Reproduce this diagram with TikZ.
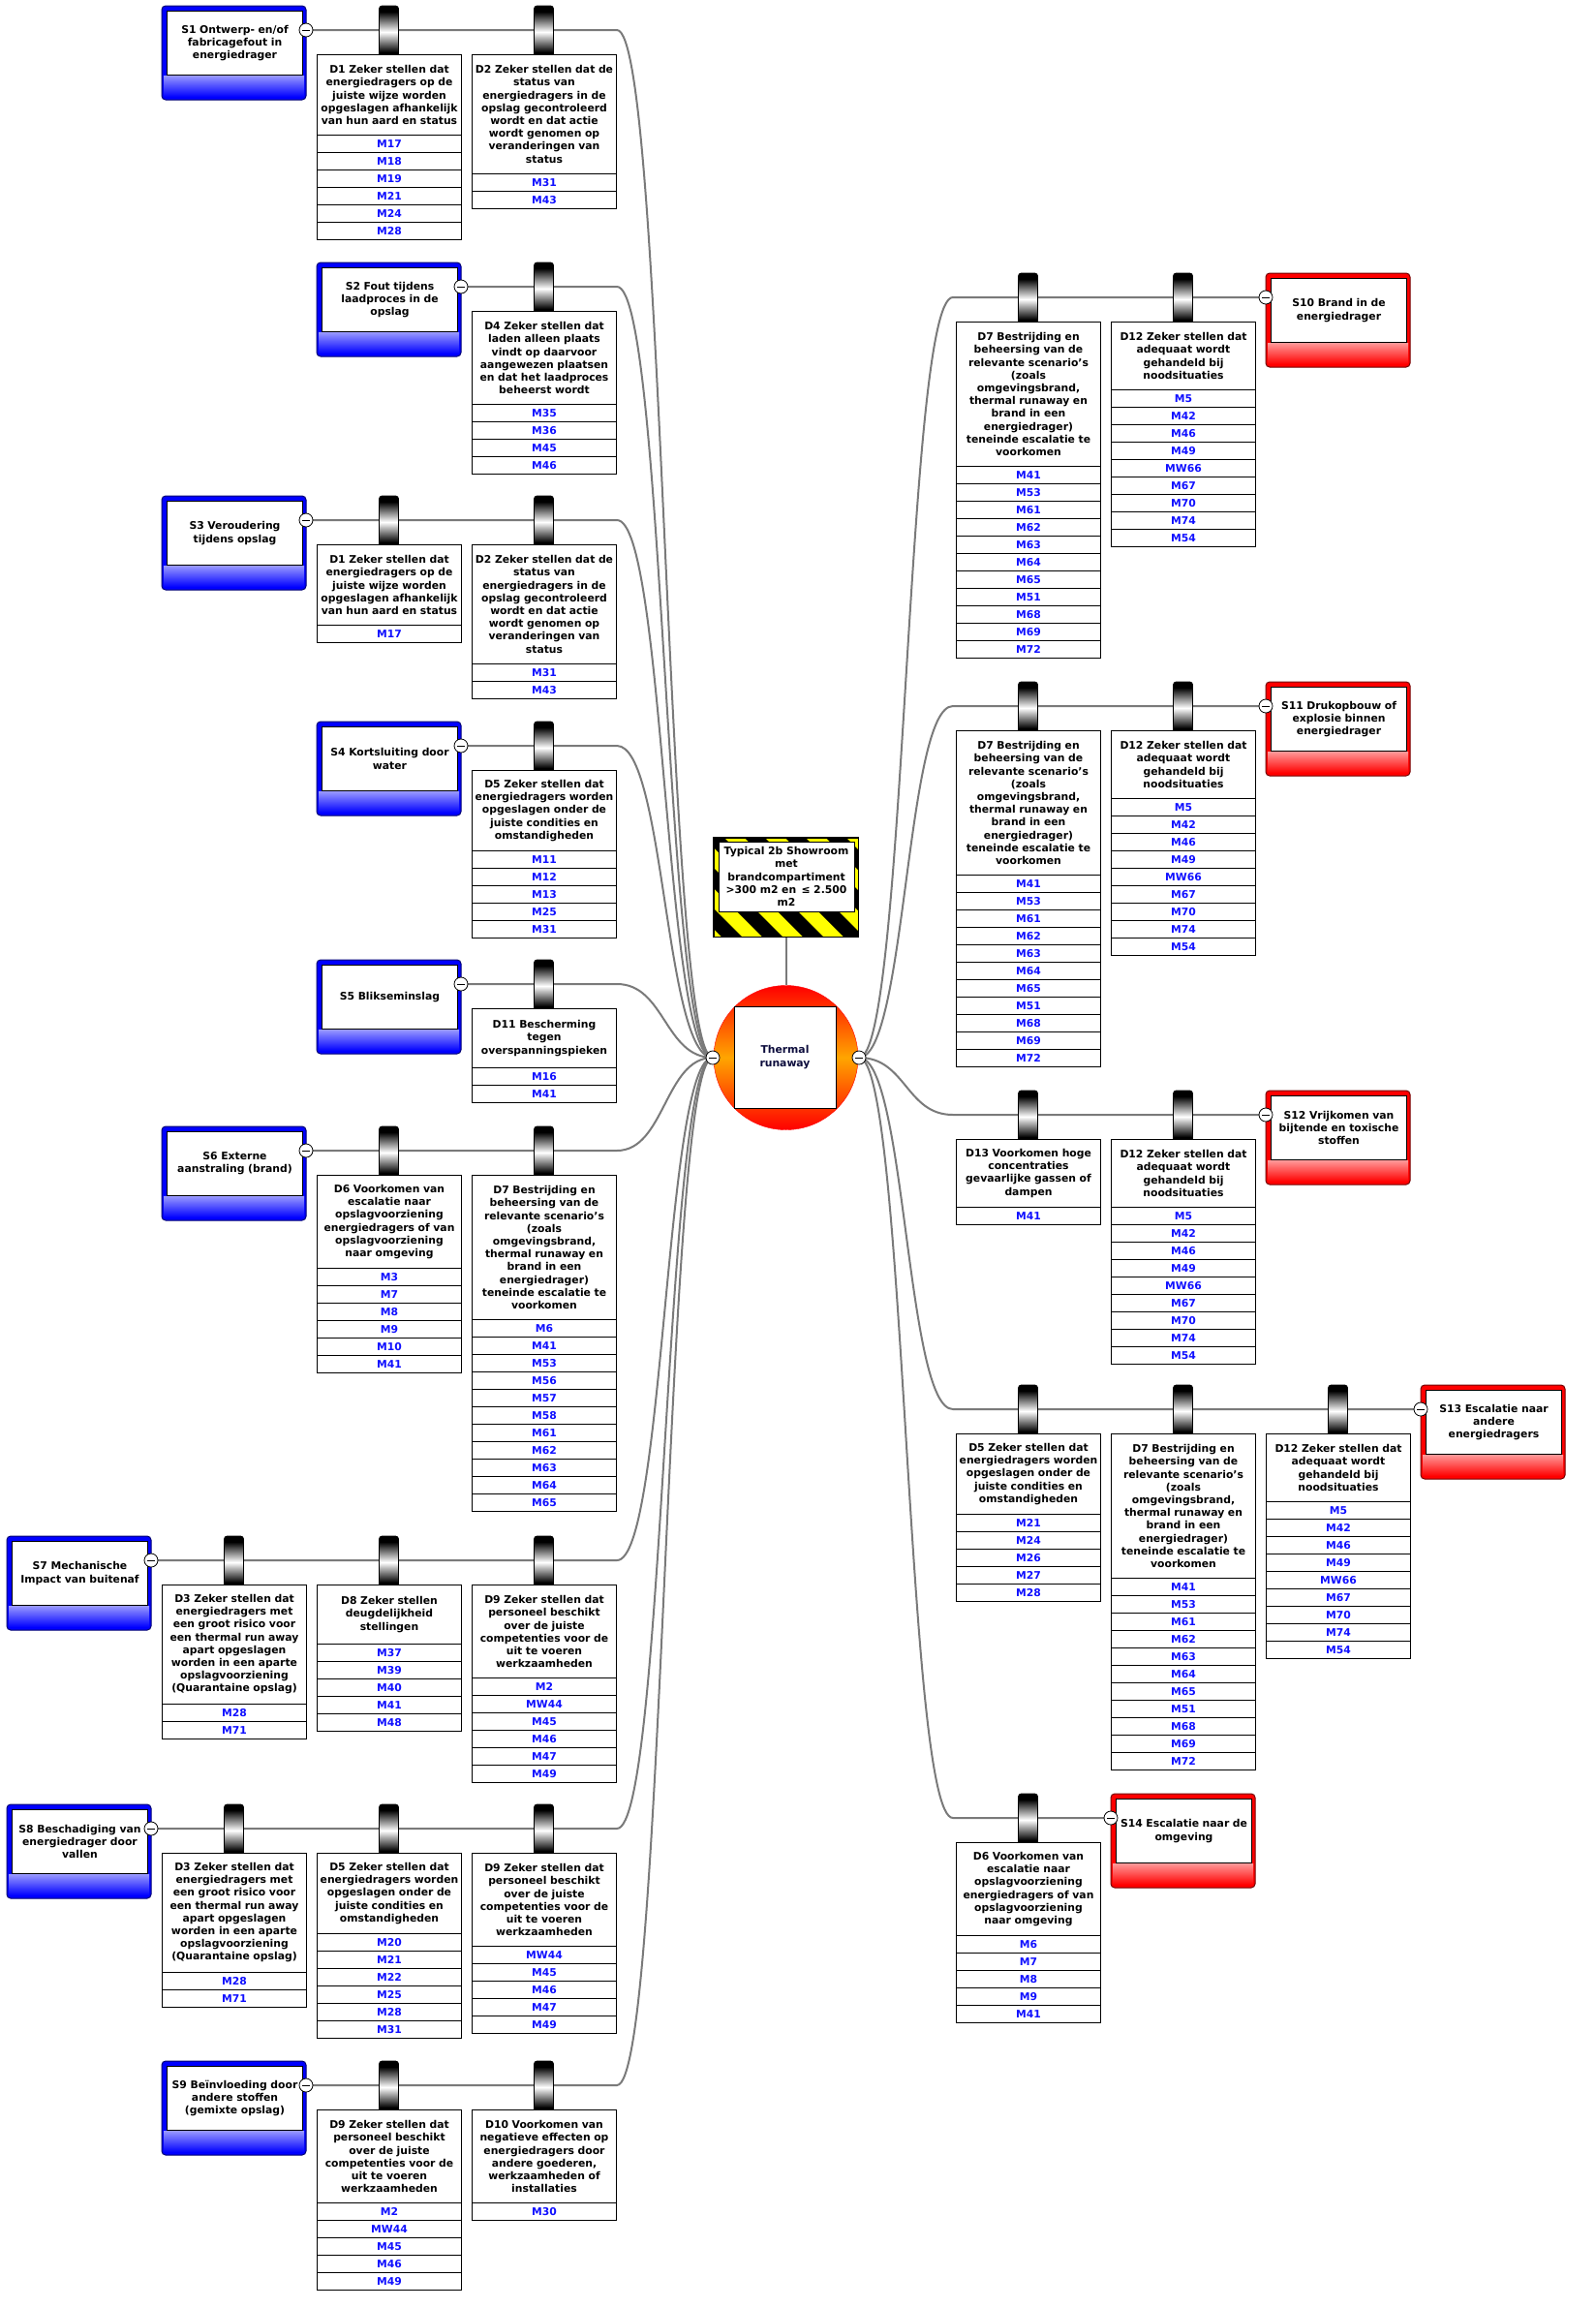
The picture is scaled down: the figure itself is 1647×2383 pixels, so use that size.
\documentclass[tikz,border=0pt]{standalone}
\usepackage{fontspec}
\setmainfont{DejaVu Sans}
\pgfdeclarelayer{bgfill}
\pgfdeclarelayer{bglines}
\pgfsetlayers{bgfill,bglines,main}
\definecolor{lg}{RGB}{122,122,122}
\definecolor{mblue}{RGB}{16,16,255}
\definecolor{navy}{RGB}{12,12,60}
\definecolor{tblue}{RGB}{0,0,255}
\definecolor{tred}{RGB}{255,0,0}
\definecolor{hzyellow}{RGB}{255,255,0}
\definecolor{teorange}{RGB}{255,165,0}
\tikzset{
  conn/.style={draw=lg, line width=2},
  txt/.style={font=\fontsize{10.8}{13.2}\selectfont\bfseries},
  dtitle/.style={draw=black, line width=1, fill=white, minimum width=149, anchor=north west, inner sep=0, text width=147, align=center, txt},
  mrow/.style={draw=black, line width=1, fill=white, minimum width=149, minimum height=18, anchor=north west, inner sep=0, text=mblue, txt},
  minus/.style={circle, draw=black, line width=0.8, fill=white, minimum size=14, inner sep=0,
    path picture={\draw[line width=1] ([xshift=3pt]path picture bounding box.west) -- ([xshift=-3pt]path picture bounding box.east);}},
}
\newcommand{\cylB}[2]{%
  \begin{scope}
    \clip[rounded corners=3] (#1-10,#2-50) rectangle (#1+10,#2+4);
    \foreach \j in {0,...,50} {
      \pgfmathsetmacro{\pc}{min(100,abs(\j-27)*100/21)}
      \fill[black!\pc!white] (#1-10,#2-50+\j) rectangle (#1+10,#2-48.9+\j);
    }
  \end{scope}
  \draw[black, line width=0.8, rounded corners=3] (#1-10,#2+2) -- (#1-10,#2-50) -- (#1+10,#2-50) -- (#1+10,#2+2);
}
\newcommand{\barrierD}[6]{%
  \pgfmathsetmacro{\hh}{max(13.2*#4+17,61)}%
  \cylB{#2+74.5}{#3}
  \node[dtitle, minimum height=\hh] (#1) at (#2,#3) {#5};
  \foreach \m [count=\i] in {#6} {
    \node[mrow] (#1-\i) at (#2, #3+\hh+18*\i-18) {\m};
  }
}
\newcommand{\threatB}[5]{%
  \path[draw=#4!45!black, line width=1, fill=#4, rounded corners=4] (#2,#3) rectangle (#2+149,#3+97);
  \shade[top color=#4!40!white, bottom color=#4] (#2+2,#3+72) rectangle (#2+147,#3+94);
  \node[draw=black, line width=1, fill=white, minimum width=140, minimum height=66, anchor=north west, inner sep=0, text width=138, align=center, txt] (#1) at (#2+5,#3+5) {#5};
}
\begin{document}
\begin{tikzpicture}[x=1pt,y=-1pt]
\useasboundingbox (0,0) rectangle (1647,2383);
\begin{pgfonlayer}{bgfill}
  \fill[white] (0,0) rectangle (1647,2383);
\end{pgfonlayer}

% ---------------- hazard and top event ----------------
\node[draw=black, line width=1, fill=hzyellow, minimum width=149, minimum height=102, inner sep=0] (hz) at (811.5,916) {};
\begin{scope}
  \clip (737,865) rectangle (886,967);
  \foreach \k in {-3,...,4} {
    \fill[black] (737+42*\k-10,865) -- ++(21,0) -- ++(110,110) -- ++(-21,0) -- cycle;
  }
\end{scope}
\draw[line width=1] (hz.north west) rectangle (hz.south east);
\node[draw=black, line width=1, fill=white, minimum width=140, minimum height=72, inner sep=0, text width=140, align=center, txt] (hzt) at (812,905)
  {Typical 2b Showroom\\met\\brandcompartiment\\>300 m2 en\, ≤ 2.500\\m2};

\node[circle, minimum size=149, inner sep=0, draw=tred, top color=tred, bottom color=tred, middle color=teorange] (tecirc) at (811.5,1092) {};
\node[draw=black, line width=1, fill=white, minimum size=105, inner sep=0, align=center, txt, text=navy] (te) at (810.5,1091.5) {Thermal\\runaway};
\node[minus] (tel) at (736,1092) {};
\node[minus] (ter) at (887,1092) {};

% ---------------- left threats ----------------
\threatB{s1}{167}{6}{tblue}{S1 Ontwerp- en/of\\fabricagefout in\\energiedrager}
\barrierD{s1d1}{327}{56}{5}{D1 Zeker stellen dat\\energiedragers op de\\juiste wijze worden\\opgeslagen afhankelijk\\van hun aard en status}{M17,M18,M19,M21,M24,M28}
\barrierD{s1d2}{487}{56}{8}{D2 Zeker stellen dat de\\status van\\energiedragers in de\\opslag gecontroleerd\\wordt en dat actie\\wordt genomen op\\veranderingen van\\status}{M31,M43}
\node[minus] (s1m) at (316,31) {};

\threatB{s2}{327}{271}{tblue}{S2 Fout tijdens\\laadproces in de\\opslag}
\barrierD{s2d4}{487}{321}{6}{D4 Zeker stellen dat\\laden alleen plaats\\vindt op daarvoor\\aangewezen plaatsen\\en dat het laadproces\\beheerst wordt}{M35,M36,M45,M46}
\node[minus] (s2m) at (476,296) {};

\threatB{s3}{167}{512}{tblue}{S3 Veroudering\\tijdens opslag}
\barrierD{s3d1}{327}{562}{5}{D1 Zeker stellen dat\\energiedragers op de\\juiste wijze worden\\opgeslagen afhankelijk\\van hun aard en status}{M17}
\barrierD{s3d2}{487}{562}{8}{D2 Zeker stellen dat de\\status van\\energiedragers in de\\opslag gecontroleerd\\wordt en dat actie\\wordt genomen op\\veranderingen van\\status}{M31,M43}
\node[minus] (s3m) at (316,537) {};

\threatB{s4}{327}{745}{tblue}{S4 Kortsluiting door\\water}
\barrierD{s4d5}{487}{795}{5}{D5 Zeker stellen dat\\energiedragers worden\\opgeslagen onder de\\juiste condities en\\omstandigheden}{M11,M12,M13,M25,M31}
\node[minus] (s4m) at (476,770) {};

\threatB{s5}{327}{991}{tblue}{S5 Blikseminslag}
\barrierD{s5d11}{487}{1041}{3}{D11 Bescherming\\tegen\\overspanningspieken}{M16,M41}
\node[minus] (s5m) at (476,1016) {};

\threatB{s6}{167}{1163}{tblue}{S6 Externe\\aanstraling (brand)}
\barrierD{s6d6}{327}{1213}{6}{D6 Voorkomen van\\escalatie naar\\opslagvoorziening\\energiedragers of van\\opslagvoorziening\\naar omgeving}{M3,M7,M8,M9,M10,M41}
\barrierD{s6d7}{487}{1213}{10}{D7 Bestrijding en\\beheersing van de\\relevante scenario’s\\(zoals\\omgevingsbrand,\\thermal runaway en\\brand in een\\energiedrager)\\teneinde escalatie te\\voorkomen}{M6,M41,M53,M56,M57,M58,M61,M62,M63,M64,M65}
\node[minus] (s6m) at (316,1188) {};

\threatB{s7}{7}{1586}{tblue}{S7 Mechanische\\Impact van buitenaf}
\barrierD{s7d3}{167}{1636}{8}{D3 Zeker stellen dat\\energiedragers met\\een groot risico voor\\een thermal run away\\apart opgeslagen\\worden in een aparte\\opslagvoorziening\\(Quarantaine opslag)}{M28,M71}
\barrierD{s7d8}{327}{1636}{3}{D8 Zeker stellen\\deugdelijkheid\\stellingen}{M37,M39,M40,M41,M48}
\barrierD{s7d9}{487}{1636}{6}{D9 Zeker stellen dat\\personeel beschikt\\over de juiste\\competenties voor de\\uit te voeren\\werkzaamheden}{M2,MW44,M45,M46,M47,M49}
\node[minus] (s7m) at (156,1611) {};

\threatB{s8}{7}{1863}{tblue}{S8 Beschadiging van\\energiedrager door\\vallen}
\barrierD{s8d3}{167}{1913}{8}{D3 Zeker stellen dat\\energiedragers met\\een groot risico voor\\een thermal run away\\apart opgeslagen\\worden in een aparte\\opslagvoorziening\\(Quarantaine opslag)}{M28,M71}
\barrierD{s8d5}{327}{1913}{5}{D5 Zeker stellen dat\\energiedragers worden\\opgeslagen onder de\\juiste condities en\\omstandigheden}{M20,M21,M22,M25,M28,M31}
\barrierD{s8d9}{487}{1913}{6}{D9 Zeker stellen dat\\personeel beschikt\\over de juiste\\competenties voor de\\uit te voeren\\werkzaamheden}{MW44,M45,M46,M47,M49}
\node[minus] (s8m) at (156,1888) {};

\threatB{s9}{167}{2128}{tblue}{S9 Beïnvloeding door\\andere stoffen\\(gemixte opslag)}
\barrierD{s9d9}{327}{2178}{6}{D9 Zeker stellen dat\\personeel beschikt\\over de juiste\\competenties voor de\\uit te voeren\\werkzaamheden}{M2,MW44,M45,M46,M49}
\barrierD{s9d10}{487}{2178}{6}{D10 Voorkomen van\\negatieve effecten op\\energiedragers door\\andere goederen,\\werkzaamheden of\\installaties}{M30}
\node[minus] (s9m) at (316,2153) {};

% ---------------- right consequences ----------------
\threatB{s10}{1307}{282}{tred}{S10 Brand in de\\energiedrager}
\barrierD{s10d7}{987}{332}{10}{D7 Bestrijding en\\beheersing van de\\relevante scenario’s\\(zoals\\omgevingsbrand,\\thermal runaway en\\brand in een\\energiedrager)\\teneinde escalatie te\\voorkomen}{M41,M53,M61,M62,M63,M64,M65,M51,M68,M69,M72}
\barrierD{s10d12}{1147}{332}{4}{D12 Zeker stellen dat\\adequaat wordt\\gehandeld bij\\noodsituaties}{M5,M42,M46,M49,MW66,M67,M70,M74,M54}
\node[minus] (s10m) at (1307,307) {};

\threatB{s11}{1307}{704}{tred}{S11 Drukopbouw of\\explosie binnen\\energiedrager}
\barrierD{s11d7}{987}{754}{10}{D7 Bestrijding en\\beheersing van de\\relevante scenario’s\\(zoals\\omgevingsbrand,\\thermal runaway en\\brand in een\\energiedrager)\\teneinde escalatie te\\voorkomen}{M41,M53,M61,M62,M63,M64,M65,M51,M68,M69,M72}
\barrierD{s11d12}{1147}{754}{4}{D12 Zeker stellen dat\\adequaat wordt\\gehandeld bij\\noodsituaties}{M5,M42,M46,M49,MW66,M67,M70,M74,M54}
\node[minus] (s11m) at (1307,729) {};

\threatB{s12}{1307}{1126}{tred}{S12 Vrijkomen van\\bijtende en toxische\\stoffen}
\barrierD{s12d13}{987}{1176}{4}{D13 Voorkomen hoge\\concentraties\\gevaarlijke gassen of\\dampen}{M41}
\barrierD{s12d12}{1147}{1176}{4}{D12 Zeker stellen dat\\adequaat wordt\\gehandeld bij\\noodsituaties}{M5,M42,M46,M49,MW66,M67,M70,M74,M54}
\node[minus] (s12m) at (1307,1151) {};

\threatB{s13}{1467}{1430}{tred}{S13 Escalatie naar\\andere\\energiedragers}
\barrierD{s13d5}{987}{1480}{5}{D5 Zeker stellen dat\\energiedragers worden\\opgeslagen onder de\\juiste condities en\\omstandigheden}{M21,M24,M26,M27,M28}
\barrierD{s13d7}{1147}{1480}{10}{D7 Bestrijding en\\beheersing van de\\relevante scenario’s\\(zoals\\omgevingsbrand,\\thermal runaway en\\brand in een\\energiedrager)\\teneinde escalatie te\\voorkomen}{M41,M53,M61,M62,M63,M64,M65,M51,M68,M69,M72}
\barrierD{s13d12}{1307}{1480}{4}{D12 Zeker stellen dat\\adequaat wordt\\gehandeld bij\\noodsituaties}{M5,M42,M46,M49,MW66,M67,M70,M74,M54}
\node[minus] (s13m) at (1467,1455) {};

\threatB{s14}{1147}{1852}{tred}{S14 Escalatie naar de\\omgeving}
\barrierD{s14d6}{987}{1902}{6}{D6 Voorkomen van\\escalatie naar\\opslagvoorziening\\energiedragers of van\\opslagvoorziening\\naar omgeving}{M6,M7,M8,M9,M41}
\node[minus] (s14m) at (1147,1877) {};

% ---------------- connectors (behind) ----------------
\begin{pgfonlayer}{bglines}
  \draw[conn] (hz) -- (tecirc);
  \foreach \n/\y in {s1/31, s2/296, s3/537, s4/770, s5/1016, s6/1188, s7/1611, s8/1888, s9/2153} {
    \coordinate (\n b) at (637,\y);
    \draw[conn] (\n m.center) -- (\n b) .. controls (686.5,\y) and (686.5,1092) .. (tel.center);
  }
  \foreach \n/\y in {s10/307, s11/729, s12/1151, s13/1455, s14/1877} {
    \coordinate (\n b) at (984,\y);
    \draw[conn] (\n m.center) -- (\n b) .. controls (935.5,\y) and (935.5,1092) .. (ter.center);
  }
\end{pgfonlayer}
\end{tikzpicture}
\end{document}
